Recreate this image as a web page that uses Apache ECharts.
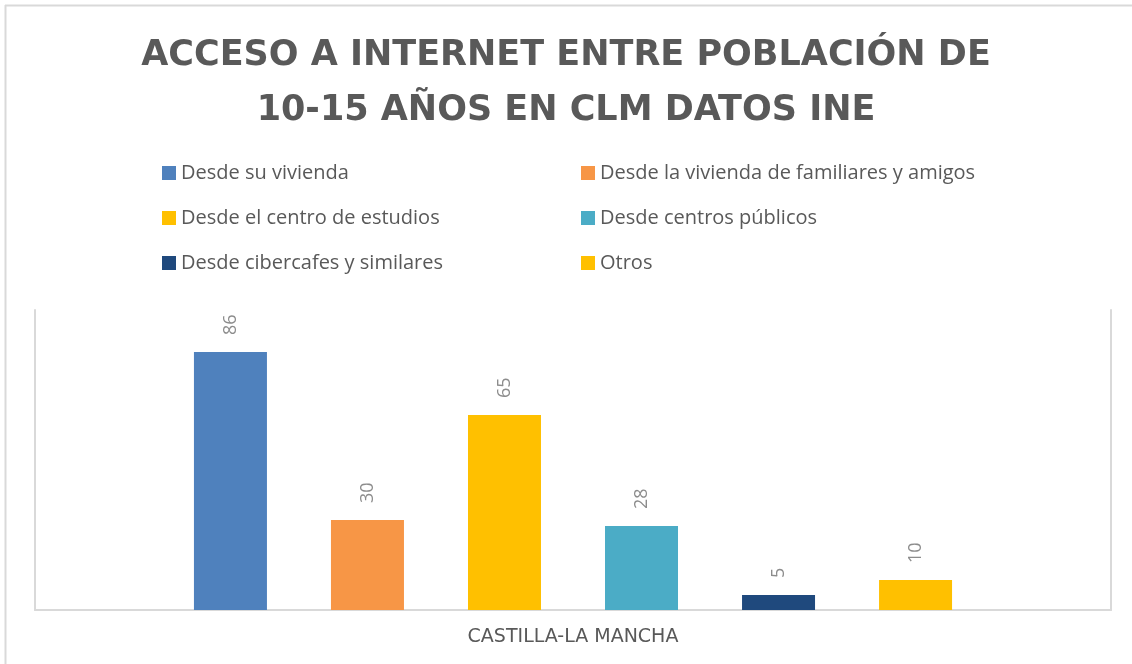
<!DOCTYPE html>
<html>
<head>
<meta charset="utf-8">
<style>
html,body{margin:0;padding:0;background:#fff;}
#chart{width:1132px;height:664px;}
</style>
<script src="https://cdn.jsdelivr.net/npm/echarts@6/dist/echarts.min.js"></script>
</head>
<body>
<div id="chart"></div>
<script>
const titleText = 'ACCESO A INTERNET ENTRE POBLACIÓN DE\n10-15 AÑOS EN CLM DATOS INE';
const categories = ['CASTILLA-LA MANCHA'];
const seriesNames = [
  'Desde su vivienda',
  'Desde la vivienda de familiares y amigos',
  'Desde el centro de estudios',
  'Desde centros públicos',
  'Desde cibercafes y similares',
  'Otros'
];
const seriesValues = [86, 30, 65, 28, 5, 10];
const seriesColors = ['#4F81BD', '#F79646', '#FFC000', '#4BACC6', '#1F497D', '#FFC000'];

const chart = echarts.init(document.getElementById('chart'));
const FONT = '"Open Sans", "Noto Sans", sans-serif';
const WIDE = '"DejaVu Sans", "Open Sans", sans-serif';

const series = seriesNames.map((name, i) => ({
  name: name,
  type: 'bar',
  data: [seriesValues[i]],
  barWidth: 73,
  barGap: '87.7%',
  itemStyle: { color: seriesColors[i] },
  label: {
    show: true,
    position: 'top',
    rotate: 90,
    align: 'left',
    verticalAlign: 'middle',
    distance: 17,
    color: '#8c8c8c',
    fontSize: 18,
    fontFamily: FONT
  }
}));

const legendText = { color: '#595959', fontSize: 20, fontFamily: FONT, lineHeight: 22 };

chart.setOption({
  animation: false,
  backgroundColor: '#ffffff',
  title: {
    text: titleText,
    left: 'center',
    top: 23,
    textStyle: {
      color: '#595959',
      fontSize: 35,
      fontWeight: 'bold',
      fontFamily: WIDE,
      lineHeight: 55
    }
  },
  legend: [
    {
      left: 162, top: 162, orient: 'vertical', padding: 0,
      data: [seriesNames[0], seriesNames[2], seriesNames[4]],
      itemWidth: 14, itemHeight: 14, itemGap: 23, icon: 'rect',
      textStyle: legendText, selectedMode: false
    },
    {
      left: 581, top: 162, orient: 'vertical', padding: 0,
      data: [seriesNames[1], seriesNames[3], seriesNames[5]],
      itemWidth: 14, itemHeight: 14, itemGap: 23, icon: 'rect',
      textStyle: legendText, selectedMode: false
    }
  ],
  grid: { left: 35, right: 21, top: 310, bottom: 54, containLabel: false },
  xAxis: {
    type: 'category',
    data: categories,
    axisLine: { lineStyle: { color: '#d9d9d9', width: 2 } },
    axisTick: { show: false },
    axisLabel: { color: '#595959', fontSize: 19, fontFamily: WIDE, margin: 18 }
  },
  yAxis: [
    {
      type: 'value', min: 0, max: 100, position: 'left',
      axisLine: { show: true, lineStyle: { color: '#d9d9d9', width: 2 } },
      axisTick: { show: false }, axisLabel: { show: false }, splitLine: { show: false }
    },
    {
      type: 'value', min: 0, max: 100, position: 'right',
      axisLine: { show: true, lineStyle: { color: '#d9d9d9', width: 2 } },
      axisTick: { show: false }, axisLabel: { show: false }, splitLine: { show: false }
    }
  ],
  graphic: [
    { type: 'line', shape: { x1: 5, y1: 5.5, x2: 1132, y2: 5.5 }, style: { stroke: '#d9d9d9', lineWidth: 2 }, silent: true },
    { type: 'line', shape: { x1: 5.5, y1: 5, x2: 5.5, y2: 664 }, style: { stroke: '#d9d9d9', lineWidth: 2 }, silent: true }
  ],
  series: series
});
</script>
</body>
</html>
